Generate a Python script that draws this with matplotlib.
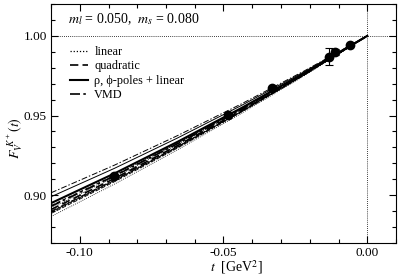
import matplotlib
matplotlib.use("Agg")
import matplotlib.pyplot as plt
from matplotlib.ticker import MultipleLocator

plt.rcParams["font.family"] = "Liberation Serif"
plt.rcParams["mathtext.fontset"] = "stix"

# lattice data points
t_data = [-0.0881, -0.0486, -0.0333, -0.0132, -0.0112, -0.0059]
f_data = [0.9119, 0.9506, 0.9670, 0.9870, 0.9900, 0.9944]
f_err = [0.0012, 0.0012, 0.0010, 0.0055, 0.0020, 0.0008]

# fit curves: values read at these t
t_fit = [-0.11, -0.088, -0.066, -0.044, -0.022, 0.0]
linear_c = [0.889, 0.9088, 0.9299, 0.9521, 0.9754, 1.0]
linear_lo = [0.8866, 0.9069, 0.9285, 0.9511, 0.9749, 1.0]
linear_hi = [0.892, 0.9112, 0.9317, 0.9533, 0.976, 1.0]
quad_c = [0.891, 0.9104, 0.9311, 0.9529, 0.9758, 1.0]
quad_lo = [0.8885, 0.9084, 0.9296, 0.9519, 0.9753, 1.0]
quad_hi = [0.8935, 0.9124, 0.9326, 0.9539, 0.9763, 1.0]
pole_c = [0.895, 0.9136, 0.9335, 0.9545, 0.9766, 1.0]
pole_lo = [0.8895, 0.9092, 0.9302, 0.9523, 0.9755, 1.0]
pole_hi = [0.899, 0.9168, 0.9359, 0.9561, 0.9774, 1.0]
vmd_c = [0.893, 0.912, 0.9323, 0.9537, 0.9762, 1.0]
vmd_lo = [0.890, 0.9096, 0.9305, 0.9525, 0.9756, 1.0]
vmd_hi = [0.9015, 0.9188, 0.9374, 0.9571, 0.9779, 1.0]

fig = plt.figure(figsize=(3.99, 2.76), dpi=100)
ax = fig.add_axes([51 / 399, 1 - 243 / 276, 345 / 399, 239 / 276])

dot = (0, (1, 1.5))
dash = (0, (5, 2.5))
dashdot = (0, (6, 2, 1.5, 2))

ax.axhline(1.0, color="black", lw=0.6, ls=dot)
ax.axvline(0.0, color="black", lw=0.6, ls=dot)

for y in (linear_lo, linear_hi):
    ax.plot(t_fit, y, color="black", lw=0.6, ls=dot)
for y in (quad_lo, quad_hi):
    ax.plot(t_fit, y, color="black", lw=0.6, ls=dash)
for y in (pole_lo, pole_hi):
    ax.plot(t_fit, y, color="black", lw=0.7, ls="-")
for y in (vmd_lo, vmd_hi):
    ax.plot(t_fit, y, color="black", lw=0.7, ls=dashdot)

ax.plot(t_fit, linear_c, color="black", lw=0.9, ls=dot, label="linear")
ax.plot(t_fit, quad_c, color="black", lw=1.2, ls=dash, label="quadratic")
ax.plot(t_fit, pole_c, color="black", lw=1.5, ls="-", label="ρ, ϕ-poles + linear")
ax.plot(t_fit, vmd_c, color="black", lw=1.2, ls=dashdot, label="VMD")

ax.errorbar(t_data, f_data, yerr=f_err, fmt="o", color="black", ms=6,
            elinewidth=0.8, capsize=3, capthick=0.8, zorder=5)

ax.set_xlim(-0.11, 0.01)
ax.set_ylim(0.87, 1.02)
ax.xaxis.set_major_locator(MultipleLocator(0.05))
ax.xaxis.set_minor_locator(MultipleLocator(0.01))
ax.yaxis.set_major_locator(MultipleLocator(0.05))
ax.yaxis.set_minor_locator(MultipleLocator(0.01))
ax.xaxis.set_major_formatter(plt.FuncFormatter(lambda v, p: f"{v:.2f}"))
ax.yaxis.set_major_formatter(plt.FuncFormatter(lambda v, p: f"{v:.2f}"))
ax.tick_params(which="both", direction="in", top=True, right=True, labelsize=9.5)
ax.tick_params(which="major", length=5, width=0.8, pad=3)
ax.tick_params(which="minor", length=3, width=0.8)

ax.set_ylabel(r"$F_V^{\ K^+}(t)$", fontsize=10)
ax.yaxis.set_label_coords(-0.075, 0.44)
fig.text(236 / 399, 1 - 267 / 276, r"$t$  [GeV$^2$]", fontsize=10,
         ha="center", va="center")

ax.text(0.05, 0.935, r"$m_l$ = 0.050,  $m_s$ = 0.080", transform=ax.transAxes,
        fontsize=10, va="center")

ax.legend(loc="upper left", bbox_to_anchor=(0.03, 0.86), frameon=False,
          fontsize=8.8, handlelength=1.5, labelspacing=0.2, handletextpad=0.5,
          borderpad=0.2)

fig.savefig("out.png", dpi=100)
